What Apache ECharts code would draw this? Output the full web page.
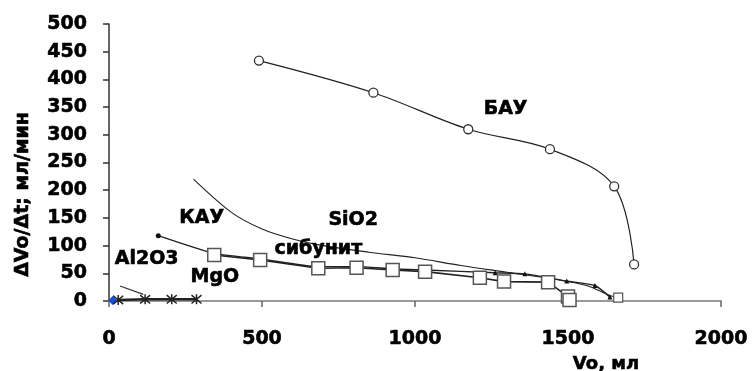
<!DOCTYPE html>
<html><head><meta charset="utf-8">
<script src="https://cdn.jsdelivr.net/npm/echarts@6/dist/echarts.min.js"></script>
<style>html,body{margin:0;padding:0;background:#fff}#c{width:752px;height:371px}</style>
</head><body><div id="c"></div>
<script>
// Data
const bauX = [490, 864, 1174, 1441, 1651, 1716];
const bauY = [434, 376, 310, 274, 207, 66];

const sio2X = [276, 400, 500, 600, 700, 850, 1000, 1150, 1300, 1450, 1560, 1637, 1664];
const sio2Y = [220, 160, 130, 112, 100, 88, 78, 64, 52, 40, 28, 10, 6];

const sibX = [344, 494, 684, 809, 927, 1033, 1212, 1291, 1435, 1500, 1505];
const sibY = [83, 74, 59, 60, 56, 53, 42, 35, 34, 8, 2];

const kauX = [161, 344, 494, 684, 809, 927, 1033, 1262, 1359, 1496, 1588, 1637];
const kauY = [118, 86, 76, 62, 62, 58, 56, 51, 49, 36, 28, 7];

const al2o3X = [36, 112];
const al2o3Y = [27, 12];

const mgoX = [30, 118, 205, 286];
const mgoY = [2, 3, 3, 3];

const originX = [12];
const originY = [1];

const labelNames = ['БАУ', 'SiO2', 'сибунит', 'КАУ', 'Al2O3', 'MgO'];
const labelX = [1296, 798, 684, 303, 123, 346];
const labelY = [346, 146, 93, 150, 75, 43];

const xTicks = [0, 500, 1000, 1500, 2000];
const yTicks = [0, 50, 100, 150, 200, 250, 300, 350, 400, 450, 500];

const zip = (xs, ys) => xs.map((x, i) => [x, ys[i]]);
const FONT = 'DejaVu Sans';
const heavy = {fontFamily: FONT, fontWeight: 'bold', color: '#000', textBorderColor: '#000', textBorderWidth: 0.6};

const chart = echarts.init(document.getElementById('c'), null, {renderer: 'canvas'});
const sio2Data = zip(sio2X, sio2Y).map((p, i, a) => i === a.length - 1
  ? {value: p, symbol: 'rect', symbolSize: 9, itemStyle: {color: '#fff', borderColor: '#555', borderWidth: 1.2}}
  : {value: p, symbol: 'none'});
const kauData = zip(kauX, kauY).map((p, i) => i === 0
  ? {value: p, symbol: 'circle', symbolSize: 5}
  : {value: p});

chart.setOption({
  animation: false,
  backgroundColor: '#fff',
  grid: {left: 109, right: 31, top: 24, bottom: 70, containLabel: false, outerBoundsMode: 'none'},
  xAxis: {
    type: 'value', min: 0, max: 2000, interval: 500,
    name: 'Vo, мл', nameLocation: 'middle', nameGap: 54,
    nameTextStyle: Object.assign({fontSize: 18, padding: [0, 0, 0, 382]}, heavy),
    axisLine: {lineStyle: {color: '#999', width: 2}},
    axisTick: {show: true, length: 6, lineStyle: {color: '#666', width: 1.5}},
    axisLabel: Object.assign({fontSize: 19, margin: 29,
      formatter: v => xTicks.includes(v) ? String(v) : ''}, heavy),
    splitLine: {show: false}
  },
  yAxis: {
    type: 'value', min: 0, max: 500, interval: 50,
    name: 'ΔVo/Δt; мл/мин', nameLocation: 'middle', nameGap: 76, nameRotate: 90,
    nameTextStyle: Object.assign({fontSize: 19, padding: [0, 64, 0, 0]}, heavy),
    axisLine: {show: true, lineStyle: {color: '#333', width: 1.5}},
    axisTick: {show: true, length: 6, lineStyle: {color: '#333', width: 1.5}},
    axisLabel: Object.assign({fontSize: 19, margin: 22,
      formatter: v => yTicks.includes(v) ? String(v) : ''}, heavy),
    splitLine: {show: false}
  },
  series: [
    {type: 'line', name: 'БАУ', data: zip(bauX, bauY), smooth: 0.35,
      symbol: 'circle', symbolSize: 9,
      lineStyle: {color: '#222', width: 1.2},
      itemStyle: {color: '#fff', borderColor: '#333', borderWidth: 1.3}},
    {type: 'line', name: 'SiO2', data: sio2Data, smooth: 0.3, showAllSymbol: true,
      lineStyle: {color: '#222', width: 1.1}, itemStyle: {color: '#fff', borderColor: '#555'}},
    {type: 'line', name: 'КАУ', data: kauData, smooth: 0.2,
      symbol: 'triangle', symbolSize: 5,
      lineStyle: {color: '#222', width: 1.4},
      itemStyle: {color: '#111'}},
    {type: 'line', name: 'сибунит', data: zip(sibX, sibY),
      symbol: 'rect', symbolSize: 13,
      lineStyle: {color: '#222', width: 1.6},
      itemStyle: {color: '#fff', borderColor: '#555', borderWidth: 1.5}},
    {type: 'line', name: 'Al2O3', data: zip(al2o3X, al2o3Y), symbol: 'none',
      lineStyle: {color: '#333', width: 1.2}},
    {type: 'line', name: 'MgO', data: zip(mgoX, mgoY),
      symbol: 'path://M-1,-1L1,1M1,-1L-1,1M0,-1.2L0,1.2', symbolSize: 10,
      lineStyle: {color: '#222', width: 2.5},
      itemStyle: {color: 'none', borderColor: '#222', borderWidth: 1.5}},
    {type: 'scatter', name: 'origin', data: zip(originX, originY),
      symbol: 'diamond', symbolSize: 9, itemStyle: {color: '#1a4fd8', opacity: 1}},
    {type: 'scatter', name: 'labels', data: zip(labelX, labelY), symbolSize: 0, silent: true, z: 10,
      itemStyle: {opacity: 1},
      label: Object.assign({show: true, position: 'inside', fontSize: 19,
        formatter: p => labelNames[p.dataIndex]}, heavy)}
  ]
});
</script></body></html>
